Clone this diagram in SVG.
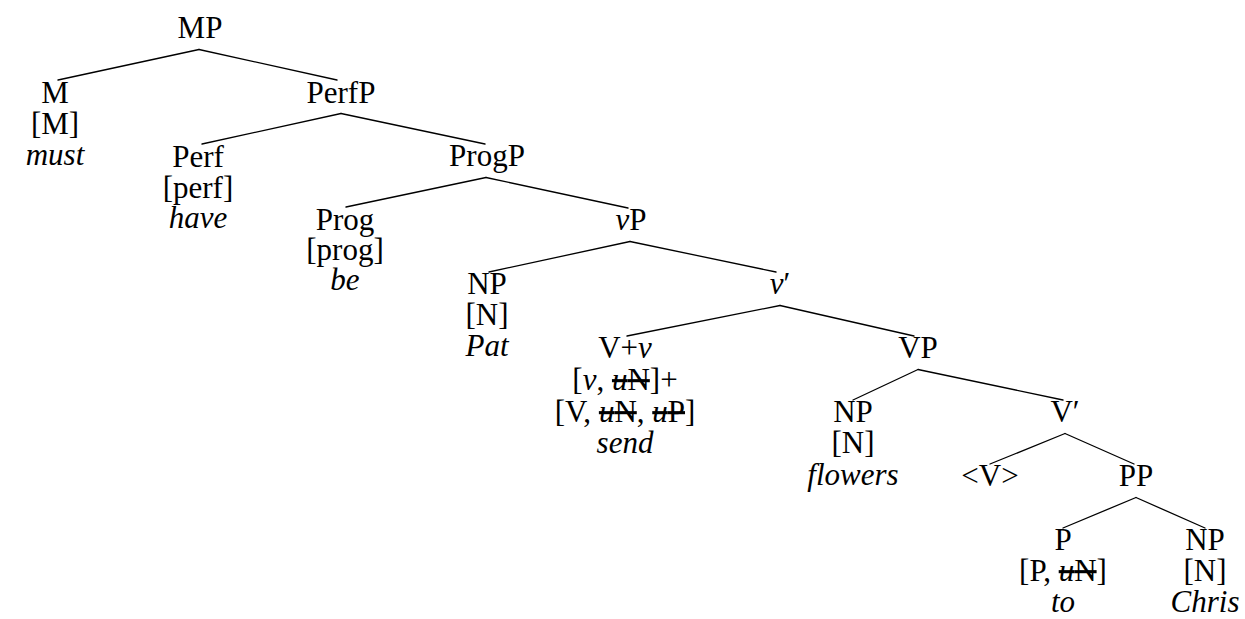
<svg xmlns="http://www.w3.org/2000/svg" width="1245" height="619" viewBox="0 0 1245 619">
  <style>
    text { font-family: "Liberation Serif", "Times New Roman", serif; font-size: 31px; text-anchor: middle; fill: #000; }
    .i { font-style: italic; }
    .s { text-decoration: line-through; }
    #edges line { stroke: #000; stroke-width: 1.3; stroke-linecap: round; }
  </style>
  <rect width="1245" height="619" fill="#fff"/>

  <!-- branches: parent apex (baseline + 11.5) to child top (baseline - 22) -->
  <g id="edges">
    <line x1="199" y1="49.5" x2="58" y2="80"/>
    <line x1="199" y1="49.5" x2="337" y2="80"/>
    <line x1="341" y1="113.5" x2="202" y2="144"/>
    <line x1="341" y1="113.5" x2="485" y2="144"/>
    <line x1="486" y1="177.5" x2="346" y2="207"/>
    <line x1="486" y1="177.5" x2="628" y2="208"/>
    <line x1="630" y1="241.5" x2="489" y2="272"/>
    <line x1="630" y1="241.5" x2="776" y2="272"/>
    <line x1="780" y1="305.5" x2="627" y2="336"/>
    <line x1="780" y1="305.5" x2="914" y2="336"/>
    <line x1="918" y1="369.5" x2="853" y2="400"/>
    <line x1="918" y1="369.5" x2="1063" y2="400"/>
    <line x1="1065" y1="433.5" x2="990" y2="464"/>
    <line x1="1065" y1="433.5" x2="1134" y2="464"/>
    <line x1="1136" y1="497.5" x2="1063" y2="528"/>
    <line x1="1136" y1="497.5" x2="1205" y2="528"/>
  </g>

  <g id="MP"><text x="200" y="38">MP</text></g>

  <g id="M">
    <text x="55" y="103">M</text>
    <text x="55" y="134">[M]</text>
    <text x="55" y="165" class="i">must</text>
  </g>
  <g id="PerfP"><text x="341" y="103">PerfP</text></g>

  <g id="Perf">
    <text x="198" y="167">Perf</text>
    <text x="198" y="198">[perf]</text>
    <text x="198" y="228" class="i">have</text>
  </g>
  <g id="ProgP"><text x="487" y="166">ProgP</text></g>

  <g id="Prog">
    <text x="345" y="230">Prog</text>
    <text x="345" y="260">[prog]</text>
    <text x="345" y="290" class="i">be</text>
  </g>
  <g id="vP"><text x="631" y="230"><tspan class="i">v</tspan>P</text></g>

  <g id="NP-Pat">
    <text x="487" y="294">NP</text>
    <text x="487" y="325">[N]</text>
    <text x="487" y="356" class="i">Pat</text>
  </g>
  <g id="v-bar"><text x="780" y="294"><tspan class="i">v</tspan>′</text></g>

  <g id="V-v">
    <text x="625" y="358">V+<tspan class="i">v</tspan></text>
    <text x="625" y="390">[<tspan class="i">v</tspan>, <tspan class="s"><tspan class="i">u</tspan>N</tspan>]+</text>
    <text x="625" y="422">[V, <tspan class="s"><tspan class="i">u</tspan>N</tspan>, <tspan class="s"><tspan class="i">u</tspan>P</tspan>]</text>
    <text x="625" y="453" class="i">send</text>
  </g>
  <g id="VP"><text x="918" y="358">VP</text></g>

  <g id="NP-flowers">
    <text x="853" y="422">NP</text>
    <text x="853" y="453">[N]</text>
    <text x="853" y="485" class="i">flowers</text>
  </g>
  <g id="V-bar"><text x="1065" y="422">V′</text></g>

  <g id="V-trace"><text x="990" y="486">&lt;V&gt;</text></g>
  <g id="PP"><text x="1136" y="486">PP</text></g>

  <g id="P">
    <text x="1063" y="550">P</text>
    <text x="1063" y="581">[P, <tspan class="s"><tspan class="i">u</tspan>N</tspan>]</text>
    <text x="1063" y="612" class="i">to</text>
  </g>
  <g id="NP-Chris">
    <text x="1205" y="550">NP</text>
    <text x="1205" y="581">[N]</text>
    <text x="1205" y="612" class="i">Chris</text>
  </g>
</svg>
